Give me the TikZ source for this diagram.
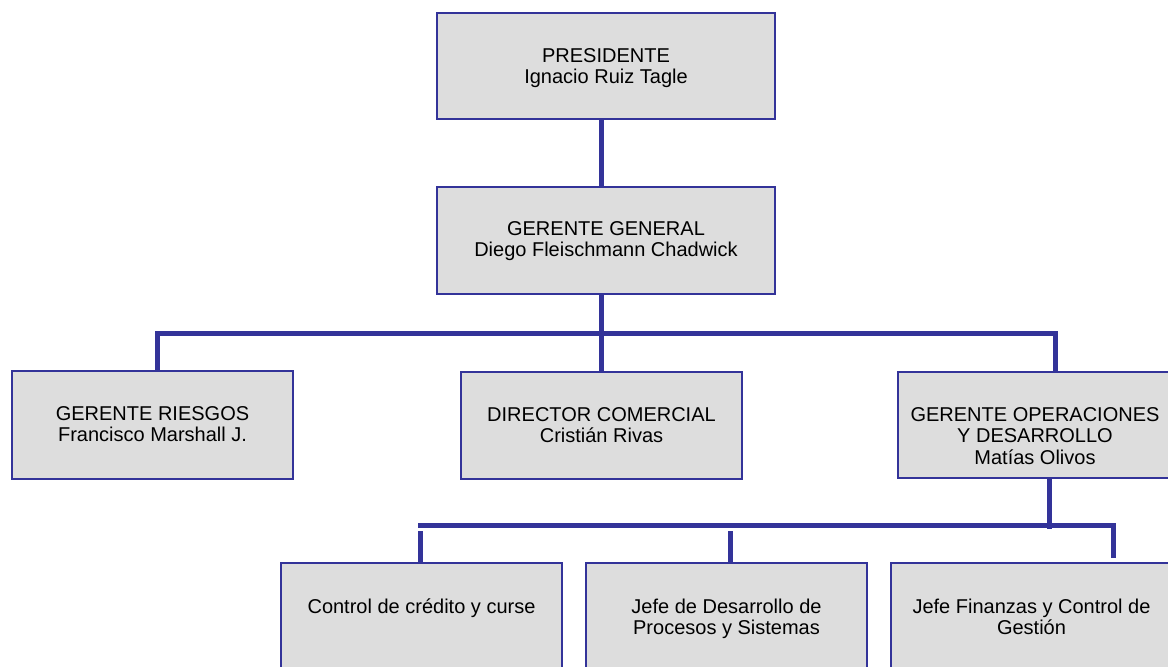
\documentclass[tikz,border=0pt]{standalone}
\usepackage{fontspec}
\setmainfont{Liberation Sans}
\definecolor{navy}{HTML}{333399}
\definecolor{boxgray}{HTML}{DDDDDD}
\begin{document}
\begin{tikzpicture}[x=1pt,y=-1pt,
  orgbox/.style={draw=navy, line width=2pt, fill=boxgray, inner sep=0pt, outer sep=0pt},
  lbl/.style={anchor=north, align=center, inner sep=0pt, font=\fontsize{20}{21.7}\selectfont},
  link/.style={draw=navy, line width=5pt, line cap=butt, line join=miter}]
\useasboundingbox (0,0) rectangle (1168,667);
\clip (0,0) rectangle (1168,667);
\newcommand{\fst}{\rule{0pt}{17pt}}
% boxes (positions)
\path
  (606,66)     node[orgbox, minimum width=338pt, minimum height=106pt] (pres) {}
  (606,240.5)  node[orgbox, minimum width=338pt, minimum height=107pt] (gg) {}
  (152.5,425)  node[orgbox, minimum width=281pt, minimum height=108pt] (gr) {}
  (601.5,425.5)node[orgbox, minimum width=281pt, minimum height=107pt] (dc) {}
  (1035,425)   node[orgbox, minimum width=274pt, minimum height=106pt] (god) {}
  (421.5,631.5)node[orgbox, minimum width=281pt, minimum height=137pt] (ctrl) {}
  (726.5,631.5)node[orgbox, minimum width=281pt, minimum height=137pt] (jdes) {}
  (1031.5,631.5)node[orgbox, minimum width=281pt, minimum height=137pt] (jfin) {};
% connector coordinates
\coordinate (t1) at (601.5,0);
\coordinate (busL) at (157,333.5);
\coordinate (busM) at (601.5,333.5);
\coordinate (busR) at (1055,333.5);
\coordinate (lbJ) at (1049,529);
\coordinate (lbL) at (418,525.5);
\coordinate (lbR) at (1113.5,525.5);
\coordinate (rbEnd) at (1113.5,558);
\coordinate (b1) at (420.5,531);
\coordinate (b2) at (730.5,531);
\begin{scope}[on background layer/.try]
\end{scope}
% connectors
\draw[link] (pres.south -| t1) -- (gg.north -| t1);
\draw[link] (gg.south -| busM) -- (dc.north -| busM);
\draw[link] (gr.north -| busL) -- (busL) -- (busR) -- (god.north -| busR);
\draw[link] (god.south -| lbJ) -- (lbJ);
\draw[link] (lbL) -- (lbR) -- (rbEnd);
\draw[link] (b1) -- (ctrl.north -| b1);
\draw[link] (b2) -- (jdes.north -| b2);
% redraw box borders on top
\foreach \n in {pres,gg,gr,dc,god,ctrl,jdes,jfin}
  \draw[navy, line width=2pt] (\n.north west) rectangle (\n.south east);
% labels
\node[lbl] (presl) at ([yshift=-32pt]pres.north) {\fst PRESIDENTE\\Ignacio Ruiz Tagle};
\node[lbl] (ggl) at ([yshift=-31pt]gg.north) {\fst GERENTE GENERAL\\Diego Fleischmann Chadwick};
\node[lbl] (grl) at ([yshift=-32pt]gr.north) {\fst GERENTE RIESGOS\\Francisco Marshall J.};
\node[lbl] (dcl) at ([yshift=-32pt]dc.north) {\fst DIRECTOR COMERCIAL\\Cristián Rivas};
\node[lbl] (godl) at ([yshift=-32pt]god.north) {\fst GERENTE OPERACIONES\\Y DESARROLLO\\Matías Olivos};
\node[lbl] (ctrll) at ([yshift=-33pt]ctrl.north) {\fst Control de crédito y curse};
\node[lbl] (jdesl) at ([yshift=-33pt]jdes.north) {\fst Jefe de Desarrollo de\\Procesos y Sistemas};
\node[lbl] (jfinl) at ([yshift=-33pt]jfin.north) {\fst Jefe Finanzas y Control de\\Gestión};
\end{tikzpicture}
\end{document}
